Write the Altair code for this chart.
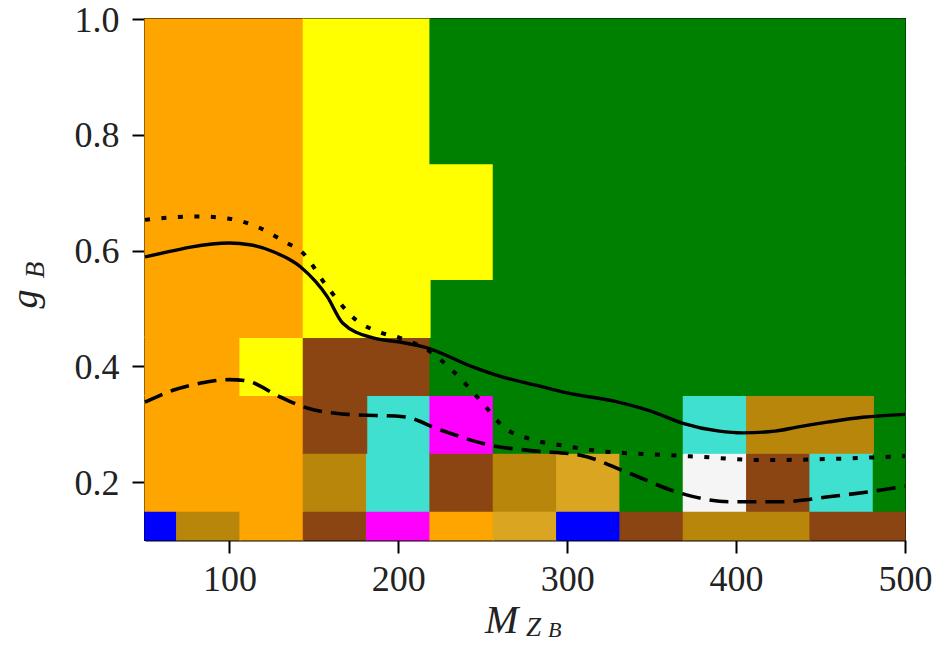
import altair as alt
import pandas as pd

# ---------------- data ----------------
x_edges = [50, 68.75, 106.25, 143.75, 181.25, 218.75, 256.25, 293.75,
           331.25, 368.75, 406.25, 443.75, 481.25, 500]
y_edges = [0.1, 0.15, 0.25, 0.35, 0.45, 0.55, 0.75, 1.0]

O, Y, G, BR, T, MG, DG, GR, BL, WS = ("orange", "yellow", "green", "saddlebrown",
                                      "turquoise", "magenta", "darkgoldenrod",
                                      "goldenrod", "blue", "whitesmoke")
row_0 = [BL, DG, O, BR, MG, O, GR, BL, BR, DG, DG, BR, BR]
row_1 = [O, O, O, DG, T, BR, DG, GR, G, WS, BR, T, G]
row_2 = [O, O, O, BR, T, MG, G, G, G, T, DG, DG, G]
row_3 = [O, O, Y, BR, BR, G, G, G, G, G, G, G, G]
row_4 = [O, O, O, Y, Y, G, G, G, G, G, G, G, G]
row_5 = [O, O, O, Y, Y, Y, G, G, G, G, G, G, G]
row_6 = [O, O, O, Y, Y, G, G, G, G, G, G, G, G]
rows = [row_0, row_1, row_2, row_3, row_4, row_5, row_6]

solid_x = [50, 64, 77, 100, 112, 126, 142, 158, 167, 185, 201, 217, 244, 260, 282,
           300, 329, 350, 368, 390, 404, 423, 436, 455, 475, 500]
solid_y = [0.589, 0.598, 0.606, 0.613, 0.610, 0.598, 0.572, 0.520, 0.475, 0.449,
           0.442, 0.432, 0.399, 0.383, 0.367, 0.354, 0.339, 0.322, 0.302, 0.288,
           0.285, 0.288, 0.295, 0.304, 0.312, 0.317]

dot_x = [50, 80, 100, 118, 134, 142, 158, 175, 190, 201, 219, 232, 250, 262, 280,
         300, 318, 350, 377, 416, 456, 500]
dot_y = [0.653, 0.659, 0.655, 0.639, 0.613, 0.600, 0.537, 0.480, 0.458, 0.449,
         0.425, 0.393, 0.336, 0.296, 0.273, 0.262, 0.254, 0.248, 0.244, 0.238,
         0.240, 0.245]

dash_x = [50, 67, 85, 100, 110, 130, 146, 170, 203, 225, 254, 280, 307, 337, 367,
          396, 426, 456, 485, 500]
dash_y = [0.338, 0.359, 0.372, 0.377, 0.375, 0.347, 0.328, 0.317, 0.313, 0.290,
          0.264, 0.254, 0.247, 0.215, 0.181, 0.166, 0.166, 0.175, 0.186, 0.193]

x_ticks = [100, 200, 300, 400, 500]
y_ticks = [0.2, 0.4, 0.6, 0.8, 1.0]

# ---------------- build cells (merge equal neighbours to avoid seams) ----------------
rects_list = []
open_rects = {}
for r, colors in enumerate(rows):
    runs = []
    start = 0
    for c in range(1, len(colors) + 1):
        if c == len(colors) or colors[c] != colors[start]:
            runs.append((start, c, colors[start]))
            start = c
    new_open = {}
    for run in runs:
        if run in open_rects:
            rec = open_rects[run]
            rec["y1"] = y_edges[r + 1]
        else:
            rec = {"x0": x_edges[run[0]], "x1": x_edges[run[1]],
                   "y0": y_edges[r], "y1": y_edges[r + 1], "color": run[2]}
            rects_list.append(rec)
        new_open[run] = rec
    open_rects = new_open
cells = pd.DataFrame(rects_list)

FONT = "Liberation Serif"
xs = alt.Scale(domain=[50, 500], nice=False, zero=False)
ys = alt.Scale(domain=[0.1, 1.0], nice=False, zero=False)

x_axis = alt.Axis(values=x_ticks, title=None, labelFlush=False, labelOverlap=False,
                  grid=False, labelPadding=9)
y_axis = alt.Axis(values=y_ticks, title=None, format=".1f", labelFlush=False,
                  labelOverlap=False, grid=False, labelPadding=13, labelOffset=1)

rects = alt.Chart(cells).mark_rect(strokeWidth=1.2).encode(
    x=alt.X("x0:Q", scale=xs, axis=x_axis),
    x2="x1:Q",
    y=alt.Y("y0:Q", scale=ys, axis=y_axis),
    y2="y1:Q",
    color=alt.Color("color:N", scale=None, legend=None),
    stroke=alt.Stroke("color:N", scale=None, legend=None),
)


def line(xv, yv, dash, width):
    df = pd.DataFrame({"x": xv, "y": yv})
    kw = dict(color="black", strokeWidth=width, interpolate="monotone")
    if dash:
        kw["strokeDash"] = dash
    return alt.Chart(df).mark_line(**kw).encode(
        x=alt.X("x:Q", scale=xs), y=alt.Y("y:Q", scale=ys))


l_solid = line(solid_x, solid_y, None, 3.4)
l_dot = line(dot_x, dot_y, [5, 11.5], 4)
l_dash = line(dash_x, dash_y, [19, 9], 3.6)


def txt(s, x, y, size, angle=0, align="left"):
    return alt.Chart(pd.DataFrame({"t": [s]})).mark_text(
        font=FONT, fontStyle="italic", fontSize=size, align=align,
        baseline="alphabetic", angle=angle, color="#222"
    ).encode(x=alt.value(x), y=alt.value(y), text="t:N")


titles = [
    txt("M", 340, 614, 40),
    txt("Z", 381, 617, 27),
    txt("B", 403, 618, 22),
    txt("g", -108, 280, 38, angle=270, align="center"),
    txt("B", -101, 251, 27, angle=270, align="center"),
]

chart = alt.layer(rects, l_solid, l_dot, l_dash, *titles).properties(
    width=760, height=521,
    autosize=alt.AutoSizeParams(type="none"),
    padding={"left": 137, "top": 11, "right": 32, "bottom": 100},
    background="white",
).configure_view(stroke="black", strokeWidth=2).configure_axis(
    labelFont=FONT, labelFontSize=36, labelColor="#222",
    domainColor="black", domainWidth=2, tickColor="black", tickWidth=2,
    tickSize=13,
)

chart.save("out.html", embed_options={"renderer": "svg", "actions": False})
